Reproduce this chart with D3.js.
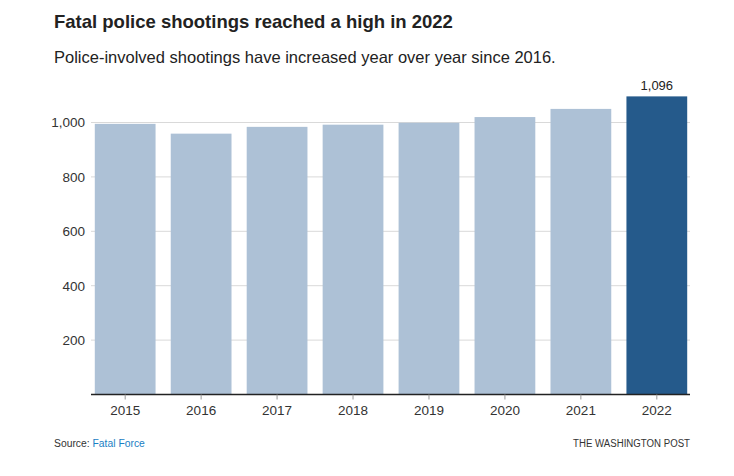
<!DOCTYPE html>
<html>
<head>
<meta charset="utf-8">
<script src="https://cdn.jsdelivr.net/npm/d3@7"></script>
<style>
  body { margin: 0; background: #fff; }
  svg text { font-family: "Liberation Sans", Arial, sans-serif; }
</style>
</head>
<body>
<div id="chart"></div>
<script>
// chart data
const years = ["2015", "2016", "2017", "2018", "2019", "2020", "2021", "2022"];
const shootings = [995, 959, 984, 992, 999, 1020, 1050, 1096];
const yTicks = [200, 400, 600, 800, 1000];
const highlightYear = "2022";

const width = 734, height = 476;
const margin = { top: 98, right: 43, bottom: 82, left: 91 };

const svg = d3.select("#chart").append("svg")
    .attr("width", width)
    .attr("height", height);

// titles
svg.append("text")
    .attr("x", 54).attr("y", 28)
    .style("font-size", "18.5px")
    .style("font-weight", "bold")
    .style("fill", "#222")
    .text("Fatal police shootings reached a high in 2022");

svg.append("text")
    .attr("x", 54).attr("y", 63)
    .style("font-size", "16.5px")
    .style("fill", "#222")
    .text("Police-involved shootings have increased year over year since 2016.");

const x = d3.scaleBand()
    .domain(years)
    .range([margin.left, 691])
    .paddingInner(0.2)
    .paddingOuter(0.05);

const y = d3.scaleLinear()
    .domain([0, 1000])
    .range([394.5, 122.5]);

// gridlines
svg.append("g")
    .selectAll("line")
    .data(yTicks)
    .enter().append("line")
    .attr("x1", margin.left)
    .attr("x2", 690)
    .attr("y1", d => y(d))
    .attr("y2", d => y(d))
    .style("stroke", "#d9d9d9")
    .style("stroke-width", 1);

// y labels
const yAxis = svg.append("g")
    .attr("transform", "translate(" + 85 + ",0)")
    .call(d3.axisLeft(y).tickValues(yTicks).tickSize(0).tickPadding(0).tickFormat(d3.format(",")));
yAxis.select(".domain").remove();
yAxis.selectAll("text")
    .style("font-size", "13.5px")
    .style("fill", "#333")
    .style("font-family", "Liberation Sans, Arial, sans-serif");

// bars
svg.append("g")
    .selectAll("rect")
    .data(years)
    .enter().append("rect")
    .attr("x", d => x(d))
    .attr("width", x.bandwidth())
    .attr("y", (d, i) => y(shootings[i]))
    .attr("height", (d, i) => y(0) - y(shootings[i]))
    .style("fill", d => d === highlightYear ? "#255a8b" : "#adc1d6");

// value label on the highlighted bar
const hi = years.indexOf(highlightYear);
svg.append("text")
    .attr("x", x(highlightYear) + x.bandwidth() / 2)
    .attr("y", y(shootings[hi]) - 6)
    .attr("text-anchor", "middle")
    .style("font-size", "13px")
    .style("fill", "#222")
    .text(d3.format(",")(shootings[hi]));

// x axis
const xAxis = svg.append("g")
    .attr("transform", "translate(0," + y(0) + ")")
    .call(d3.axisBottom(x).tickSize(5).tickPadding(6).tickSizeOuter(0));
xAxis.select(".domain")
    .attr("d", "M" + margin.left + ",0H690")
    .style("stroke", "#222")
    .style("stroke-width", 1.5);
xAxis.selectAll(".tick line").style("stroke", "#999");
xAxis.selectAll("text")
    .style("font-size", "13.5px")
    .style("fill", "#333")
    .style("font-family", "Liberation Sans, Arial, sans-serif");

// footer (condensed look, squeezed horizontally)
const source = svg.append("text")
    .attr("transform", "translate(54,447) scale(0.9,1)")
    .style("font-size", "11.5px")
    .style("fill", "#333");
source.append("tspan").text("Source: ");
source.append("tspan").style("fill", "#1a80c4").text("Fatal Force");

svg.append("text")
    .attr("transform", "translate(690,447) scale(0.84,1)")
    .attr("text-anchor", "end")
    .style("font-size", "11.5px")
    .style("fill", "#333")
    .text("THE WASHINGTON POST");
</script>
</body>
</html>
